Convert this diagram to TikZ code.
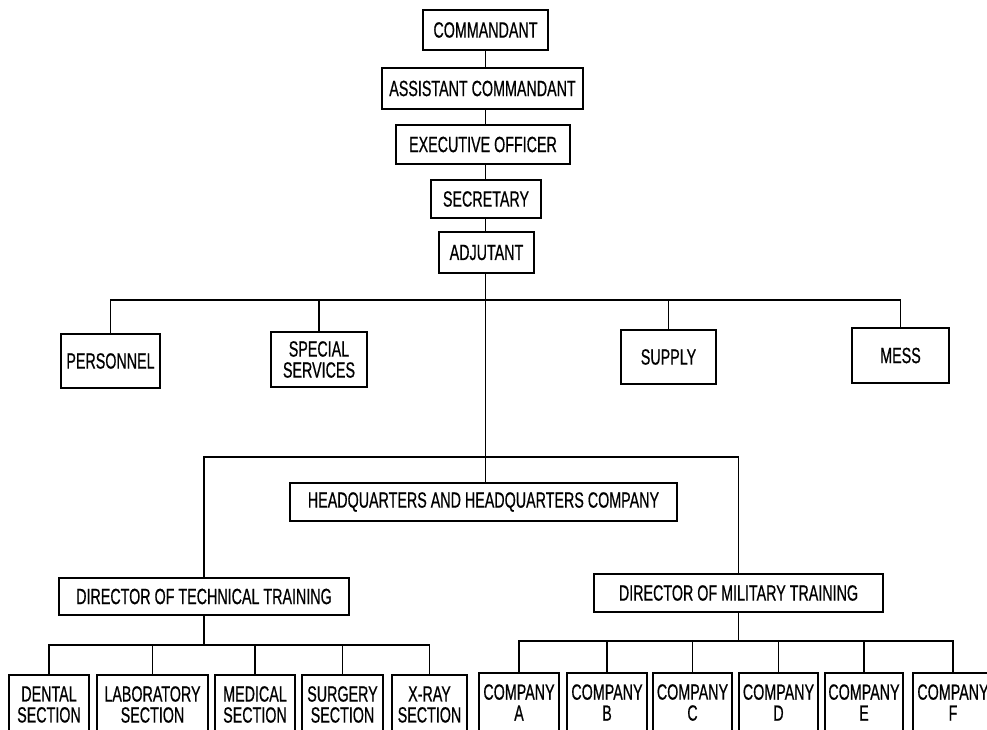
\documentclass[tikz,border=0pt]{standalone}
\usepackage{fontspec}
\setmainfont[FakeStretch=0.65,FakeBold=0.6]{Liberation Sans}
\begin{document}
\begin{tikzpicture}[x=1pt,y=-1pt,
  orgbox/.style={draw, fill=white, line width=1.5pt, inner sep=0pt, align=center,
    font=\fontsize{22}{21}\selectfont},
  link/.style={line width=1.5pt}]
\useasboundingbox (0,0) rectangle (987,730);
\clip (0,0) rectangle (987,730);
% top chain
\node[orgbox, minimum width=125pt, minimum height=40pt] (cmd) at (485.5,30) {COMMANDANT};
\node[orgbox, minimum width=201pt, minimum height=41pt] (asst) at (482.5,88.5) {ASSISTANT COMMANDANT};
\node[orgbox, minimum width=174pt, minimum height=39pt] (exec) at (483,144.5) {EXECUTIVE OFFICER};
\node[orgbox, minimum width=110pt, minimum height=38pt] (sec) at (486,199) {SECRETARY};
\node[orgbox, minimum width=95pt, minimum height=41pt] (adj) at (486.5,252.5) {ADJUTANT};
% staff
\node[orgbox, minimum width=99pt, minimum height=54pt] (pers) at (110.5,361) {PERSONNEL};
\node[orgbox, minimum width=96pt, minimum height=55pt] (spec) at (319,359.5) {SPECIAL\\SERVICES};
\node[orgbox, minimum width=95pt, minimum height=54pt] (sup) at (668.5,357) {SUPPLY};
\node[orgbox, minimum width=97pt, minimum height=55pt] (mess) at (900.5,355.5) {MESS};
% headquarters
\node[orgbox, minimum width=387pt, minimum height=38pt] (hq) at (483.5,502) {HEADQUARTERS AND HEADQUARTERS COMPANY};
\node[orgbox, minimum width=290pt, minimum height=37pt] (dtt) at (204,596.5) {DIRECTOR OF TECHNICAL TRAINING};
\node[orgbox, minimum width=289pt, minimum height=38pt] (dmt) at (738.5,593) {DIRECTOR OF MILITARY TRAINING};
% sections
\node[orgbox, minimum width=80pt, minimum height=59pt] (dental) at (49,704.5) {DENTAL\\SECTION};
\node[orgbox, minimum width=111pt, minimum height=59pt] (lab) at (152.5,704.5) {LABORATORY\\SECTION};
\node[orgbox, minimum width=80pt, minimum height=59pt] (med) at (255,704.5) {MEDICAL\\SECTION};
\node[orgbox, minimum width=81pt, minimum height=59pt] (surg) at (342.5,704.5) {SURGERY\\SECTION};
\node[orgbox, minimum width=75pt, minimum height=59pt] (xray) at (429.5,704.5) {X-RAY\\SECTION};
% companies
\node[orgbox, minimum width=80pt, minimum height=59pt] (ca) at (519,702.5) {COMPANY\\A};
\node[orgbox, minimum width=80pt, minimum height=59pt] (cb) at (607,702.5) {COMPANY\\B};
\node[orgbox, minimum width=79pt, minimum height=59pt] (cc) at (692.5,702.5) {COMPANY\\C};
\node[orgbox, minimum width=79pt, minimum height=59pt] (cd) at (778.5,702.5) {COMPANY\\D};
\node[orgbox, minimum width=78pt, minimum height=59pt] (ce) at (864,702.5) {COMPANY\\E};
\node[orgbox, minimum width=80pt, minimum height=59pt] (cf) at (953,702.5) {COMPANY\\F};
% bar coordinates
\coordinate (tbar) at (485.5,300);
\coordinate (hbar) at (485.5,457);
\coordinate (sbar) at (204,645);
\coordinate (cbar) at (738.5,641);
% spine
\draw[link] (cmd.south) -- (cmd.south |- asst.north);
\draw[link] (cmd.south |- asst.south) -- (cmd.south |- exec.north);
\draw[link] (cmd.south |- exec.south) -- (cmd.south |- sec.north);
\draw[link] (cmd.south |- sec.south) -- (cmd.south |- adj.north);
\draw[link] (cmd.south |- adj.south) -- (cmd.south |- hq.north);
% staff bar
\draw[link] (pers.north) |- (tbar) -| (mess.north);
\draw[link] (spec.north) -- (spec.north |- tbar);
\draw[link] (sup.north) -- (sup.north |- tbar);
% hq bar
\draw[link] (dtt.north) |- (hbar) -| (dmt.north);
% sections
\draw[link] (dtt.south) -- (dtt.south |- sbar);
\draw[link] (dental.north) |- (sbar) -| (xray.north);
\draw[link] (lab.north) -- (lab.north |- sbar);
\draw[link] (med.north) -- (med.north |- sbar);
\draw[link] (surg.north) -- (surg.north |- sbar);
% companies
\draw[link] (dmt.south) -- (dmt.south |- cbar);
\draw[link] (ca.north) |- (cbar) -| (cf.north);
\draw[link] (cb.north) -- (cb.north |- cbar);
\draw[link] (cc.north) -- (cc.north |- cbar);
\draw[link] (cd.north) -- (cd.north |- cbar);
\draw[link] (ce.north) -- (ce.north |- cbar);
\end{tikzpicture}
\end{document}
